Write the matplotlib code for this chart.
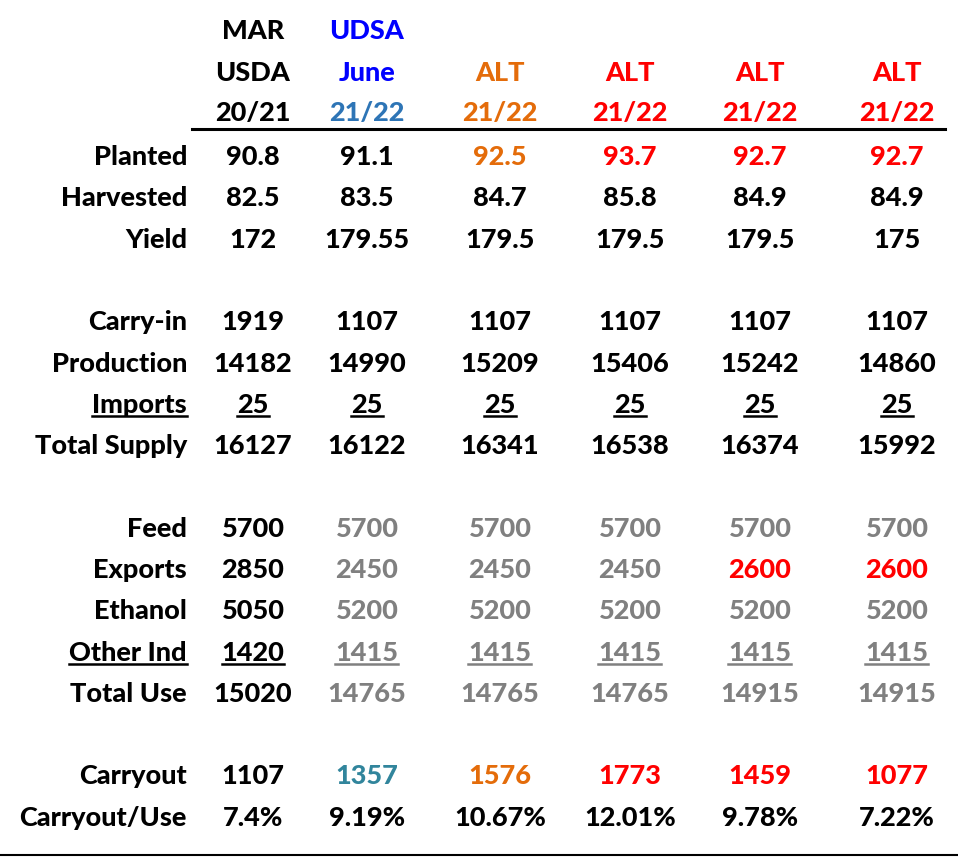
import matplotlib
matplotlib.use("Agg")
import matplotlib.pyplot as plt
from matplotlib.lines import Line2D

# ---- data ----
header1 = ["MAR", "UDSA", "", "", "", ""]
header2 = ["USDA", "June", "ALT", "ALT", "ALT", "ALT"]
header3 = ["20/21", "21/22", "21/22", "21/22", "21/22", "21/22"]

row_labels = ["Planted", "Harvested", "Yield", "",
              "Carry-in", "Production", "Imports", "Total Supply", "",
              "Feed", "Exports", "Ethanol", "Other Ind", "Total Use", "",
              "Carryout", "Carryout/Use"]

planted = ["90.8", "91.1", "92.5", "93.7", "92.7", "92.7"]
harvested = ["82.5", "83.5", "84.7", "85.8", "84.9", "84.9"]
yield_ = ["172", "179.55", "179.5", "179.5", "179.5", "175"]
carry_in = ["1919", "1107", "1107", "1107", "1107", "1107"]
production = ["14182", "14990", "15209", "15406", "15242", "14860"]
imports = ["25", "25", "25", "25", "25", "25"]
total_supply = ["16127", "16122", "16341", "16538", "16374", "15992"]
feed = ["5700", "5700", "5700", "5700", "5700", "5700"]
exports = ["2850", "2450", "2450", "2450", "2600", "2600"]
ethanol = ["5050", "5200", "5200", "5200", "5200", "5200"]
other_ind = ["1420", "1415", "1415", "1415", "1415", "1415"]
total_use = ["15020", "14765", "14765", "14765", "14915", "14915"]
carryout = ["1107", "1357", "1576", "1773", "1459", "1077"]
carryout_use = ["7.4%", "9.19%", "10.67%", "12.01%", "9.78%", "7.22%"]

rows = [planted, harvested, yield_, None,
        carry_in, production, imports, total_supply, None,
        feed, exports, ethanol, other_ind, total_use, None,
        carryout, carryout_use]

K = "#000000"; B = "#0000FF"; LB = "#2E75B6"; O = "#E46C0A"
R = "#FF0000"; G = "#808080"; T = "#31859C"

h1_colors = [K, B, K, K, K, K]
h2_colors = [K, B, O, R, R, R]
h3_colors = [K, LB, O, R, R, R]
row_colors = {
    0: [K, K, O, R, R, R],
    9: [K, G, G, G, G, G],
    10: [K, G, G, G, R, R],
    11: [K, G, G, G, G, G],
    12: [K, G, G, G, G, G],
    13: [K, G, G, G, G, G],
    15: [K, T, O, R, R, R],
}
underlined = {6, 12}

# ---- layout ----
W, H = 958, 857
fig = plt.figure(figsize=(W / 100, H / 100), dpi=100)
ax = fig.add_axes([0, 0, 1, 1])
ax.set_xlim(0, W)
ax.set_ylim(H, 0)
ax.axis("off")

FONT = "Lato"
FW = 900
FS = 19.5
col_x = [253, 367, 500, 630, 760, 897]
label_x = 187
header_y = [31, 73, 113]
row_y0 = 157
row_dy = 41.3

texts_ul = []

for j, x in enumerate(col_x):
    for hy, hdr, cols in zip(header_y, [header1, header2, header3],
                             [h1_colors, h2_colors, h3_colors]):
        if hdr[j]:
            ax.text(x, hy, hdr[j], ha="center", va="center", fontsize=FS,
                    fontweight=FW, family=FONT, color=cols[j])

ax.add_line(Line2D([192, 945], [129, 129], color="black", lw=2.2))
ax.add_line(Line2D([0, W], [855, 855], color="black", lw=1.5))

for i, (lab, vals) in enumerate(zip(row_labels, rows)):
    y = row_y0 + i * row_dy
    if vals is None:
        continue
    t = ax.text(label_x, y, lab, ha="right", va="center", fontsize=FS,
                fontweight=FW, family=FONT, color="black")
    if i in underlined:
        texts_ul.append((t, "black"))
    cols = row_colors.get(i, [K] * 6)
    for j, v in enumerate(vals):
        t = ax.text(col_x[j], y, v, ha="center", va="center", fontsize=FS,
                    fontweight=FW, family=FONT, color=cols[j])
        if i in underlined:
            texts_ul.append((t, cols[j]))

fig.canvas.draw()
r = fig.canvas.get_renderer()
inv = ax.transData.inverted()
for t, c in texts_ul:
    bb = t.get_window_extent(r)
    (x0, y0), (x1, y1) = inv.transform([[bb.x0, bb.y0], [bb.x1, bb.y1]])
    yy = max(y0, y1) - 1
    ax.add_line(Line2D([x0, x1], [yy, yy], color=c, lw=1.8))

fig.savefig("out.png", dpi=100, facecolor="white")
